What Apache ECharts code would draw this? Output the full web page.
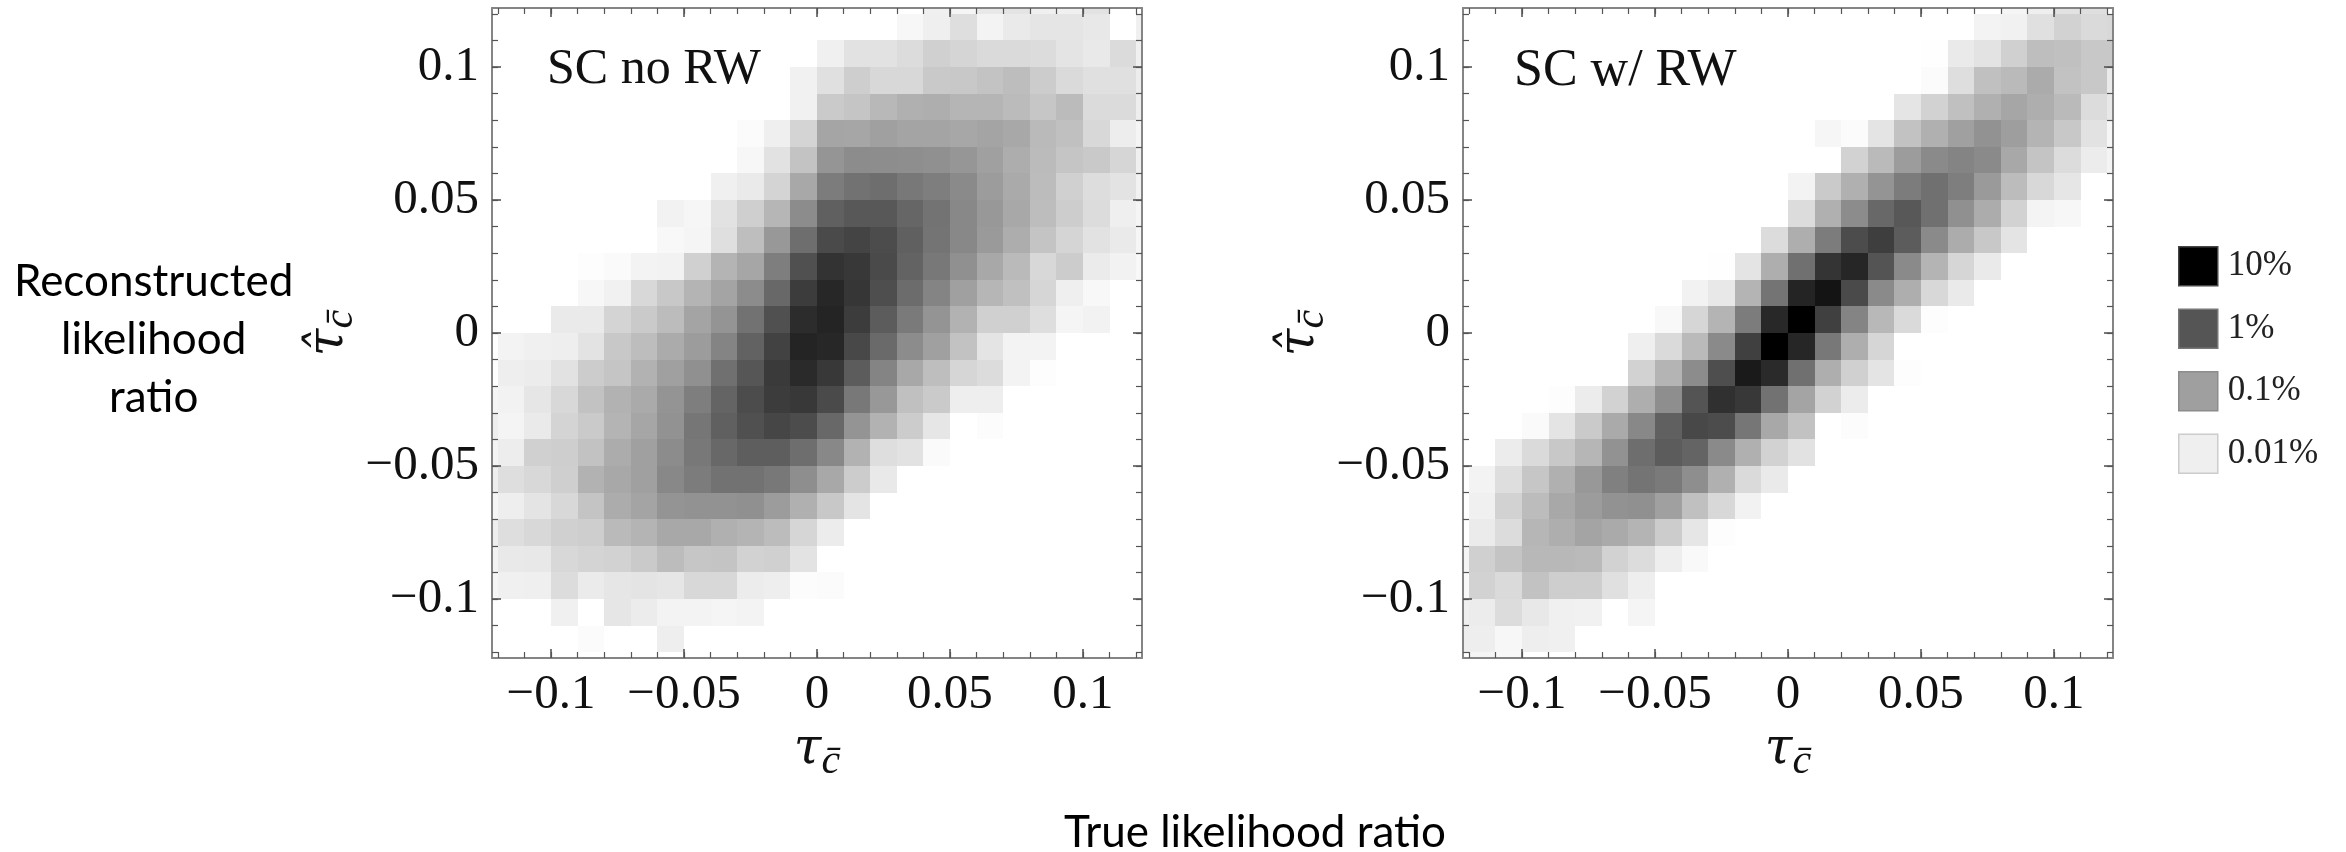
<!DOCTYPE html>
<html>
<head>
<meta charset="utf-8">
<style>html,body{margin:0;padding:0;background:#fff}#chart{width:2346px;height:852px}</style>
<script src="https://cdn.jsdelivr.net/npm/echarts@6/dist/echarts.min.js"></script>
</head>
<body>
<div id="chart"></div>
<script>
const _ = null;
// bin centres, shared by both axes (the outermost bins are cut by the frame)
const binCentres = [-0.125,-0.115,-0.105,-0.095,-0.085,-0.075,-0.065,-0.055,-0.045,-0.035,-0.025,-0.015,-0.005,0.005,0.015,0.025,0.035,0.045,0.055,0.065,0.075,0.085,0.095,0.105,0.115,0.125];
const binWidth = 0.01;
const majorTicks = [-0.1,-0.05,0,0.05,0.1];
const tickLabels = ['\u22120.1','\u22120.05','0','0.05','0.1'];
const minorTicks = [-0.12,-0.11,-0.1,-0.09,-0.08,-0.07,-0.06,-0.05,-0.04,-0.03,-0.02,-0.01,0,0.01,0.02,0.03,0.04,0.05,0.06,0.07,0.08,0.09,0.1,0.11,0.12];
const legendNames = ['10%','1%','0.1%','0.01%'];
const legendShades = ['#000000','#555555','#9f9f9f','#efefef'];
const legendBorders = ['#444444','#777777','#8c8c8c','#cccccc'];
const panelTitles = ['SC no RW','SC w/ RW'];

// grey level read from each bin, rows from the top of the plot down
const shadesNoRw = [
[_,_,_,_,_,_,_,_,_,_,_,_,_,_,_,_,_,0xf0,0xf5,0xe8,0xe4,0xf0,0xf0,0xe2],
[_,_,_,_,_,_,_,_,_,_,_,_,_,_,_,_,0xf7,0xef,0xde,0xf3,0xea,0xe5,0xe5,0xe8,_,0xf0],
[_,_,_,_,_,_,_,_,_,_,_,_,_,0xf0,0xe2,0xe2,0xdc,0xd0,0xd5,0xda,0xda,0xdc,0xe4,0xe9,0xdb,0xf0],
[_,_,_,_,_,_,_,_,_,_,_,_,0xf1,0xe0,0xce,0xd8,0xd8,0xc9,0xc8,0xc3,0xbd,0xcc,0xda,0xe0,0xe0,0xed],
[_,_,_,_,_,_,_,_,_,_,_,_,0xf1,0xca,0xc5,0xb8,0xb0,0xae,0xb5,0xb5,0xbb,0xc6,0xbb,0xdb,0xdb,0xee],
[_,_,_,_,_,_,_,_,_,_,0xfb,0xef,0xd4,0xa5,0xa6,0xa0,0xa4,0xa4,0xa7,0xa4,0xa8,0xba,0xc0,0xd8,0xed,0xf5],
[_,_,_,_,_,_,_,_,_,_,0xf7,0xe2,0xc3,0x95,0x8c,0x8d,0x8e,0x90,0x96,0xa0,0xad,0xbb,0xc5,0xc9,0xd6,0xf0],
[_,_,_,_,_,_,_,_,_,0xf0,0xea,0xd4,0xa8,0x7c,0x72,0x6e,0x78,0x7e,0x8a,0x9c,0xaa,0xbc,0xd0,0xdd,0xe3,0xf2],
[_,_,_,_,_,_,_,0xf2,0xf6,0xe2,0xcf,0xb6,0x8c,0x60,0x58,0x58,0x66,0x73,0x88,0x98,0xa8,0xbd,0xcd,0xdc,0xef,0xf5],
[_,_,_,_,_,_,_,0xf8,0xf5,0xdf,0xbe,0x98,0x6e,0x4a,0x44,0x4c,0x60,0x74,0x88,0x9a,0xad,0xc4,0xd5,0xe2,0xea,0xf6],
[_,_,_,_,0xfd,0xfa,0xf3,0xf2,0xd0,0xb4,0xa6,0x7e,0x50,0x33,0x38,0x4a,0x63,0x78,0x90,0xa8,0xba,0xd8,0xcc,0xeb,0xf2,0xf8],
[_,_,_,_,0xf7,0xf1,0xd8,0xc8,0xb4,0xa4,0x8c,0x68,0x3c,0x27,0x36,0x4e,0x6c,0x84,0xa0,0xb6,0xc0,0xd6,0xef,0xf8],
[_,_,_,0xea,0xea,0xd4,0xca,0xbc,0xa4,0x94,0x72,0x50,0x2c,0x24,0x3c,0x5c,0x7a,0x94,0xb2,0xd0,0xd0,0xde,0xf5,0xf2],
[_,0xf3,0xf0,0xee,0xe3,0xc8,0xbd,0xab,0x9c,0x84,0x62,0x42,0x24,0x27,0x48,0x6a,0x8c,0xa0,0xc2,0xe4,0xf3,0xf3],
[_,0xee,0xec,0xe2,0xcc,0xc5,0xb2,0xa0,0x90,0x70,0x56,0x3a,0x2a,0x38,0x5c,0x84,0xa8,0xbe,0xd6,0xdc,0xf3,0xfd],
[0xf5,0xf2,0xe6,0xd8,0xc2,0xb2,0xaa,0x94,0x7e,0x64,0x4c,0x3c,0x38,0x4a,0x78,0x98,0xc0,0xca,0xee,0xee],
[0xee,0xf4,0xea,0xd4,0xca,0xb4,0xa6,0x92,0x76,0x60,0x50,0x46,0x4c,0x68,0x94,0xb2,0xcc,0xe6,_,0xfc],
[0xf4,0xed,0xd0,0xce,0xc2,0xac,0xa0,0x8c,0x78,0x68,0x5e,0x5e,0x6e,0x88,0xb2,0xde,0xe2,0xfa],
[0xee,0xde,0xd8,0xcf,0xb2,0xa8,0xa0,0x88,0x7c,0x72,0x72,0x78,0x8e,0xa8,0xcc,0xe9],
[0xf5,0xee,0xe4,0xd8,0xc4,0xac,0xa4,0x94,0x92,0x92,0x90,0x9c,0xb0,0xc8,0xe4],
[0xee,0xde,0xd8,0xd0,0xce,0xba,0xb4,0xa8,0xa8,0xb0,0xb4,0xbc,0xd6,0xec],
[0xf3,0xe9,0xe8,0xd8,0xd4,0xd2,0xca,0xbc,0xc6,0xc4,0xd2,0xd0,0xe3],
[0xf5,0xf0,0xef,0xdc,0xeb,0xe6,0xe4,0xe6,0xd8,0xd8,0xec,0xee,0xfc,0xfb],
[_,_,_,0xf0,_,0xe6,0xec,0xf3,0xf3,0xf5,0xf3],
[_,_,_,_,0xfb,_,_,0xee],
[]
];
const shadesWithRw = [
[_,_,_,_,_,_,_,_,_,_,_,_,_,_,_,_,_,_,_,_,_,0xf5,0xef,0xe2,0xdf],
[_,_,_,_,_,_,_,_,_,_,_,_,_,_,_,_,_,_,_,_,0xf3,0xf1,0xe0,0xd2,0xda,0xd8],
[_,_,_,_,_,_,_,_,_,_,_,_,_,_,_,_,_,_,0xfe,0xea,0xe3,0xd0,0xbe,0xc0,0xc8,0xc8],
[_,_,_,_,_,_,_,_,_,_,_,_,_,_,_,_,_,_,0xfb,0xde,0xc0,0xba,0xab,0xc2,0xc8,0xea],
[_,_,_,_,_,_,_,_,_,_,_,_,_,_,_,_,_,0xe5,0xd2,0xc0,0xb0,0xa6,0xae,0xba,0xdc,0xe8],
[_,_,_,_,_,_,_,_,_,_,_,_,_,_,0xf6,0xfb,0xe4,0xc2,0xb0,0xa0,0x92,0x9e,0xb4,0xc8,0xe2,0xf6],
[_,_,_,_,_,_,_,_,_,_,_,_,_,_,_,0xd2,0xba,0x9c,0x8a,0x84,0x8a,0xa8,0xc4,0xdc,0xec,0xf4],
[_,_,_,_,_,_,_,_,_,_,_,_,_,0xf3,0xca,0xb0,0x94,0x7c,0x70,0x7e,0x9a,0xbc,0xd8,0xe6],
[_,_,_,_,_,_,_,_,_,_,_,_,_,0xdc,0xb0,0x8c,0x68,0x58,0x70,0x90,0xac,0xd2,0xf4,0xf7],
[_,_,_,_,_,_,_,_,_,_,_,_,0xdc,0xae,0x7c,0x4c,0x3e,0x5c,0x8a,0xac,0xc8,0xe4],
[_,_,_,_,_,_,_,_,_,_,0xfe,0xe4,0xae,0x70,0x34,0x26,0x54,0x8a,0xb4,0xd6,0xea],
[_,_,_,_,_,_,_,_,_,0xf2,0xe8,0xb4,0x74,0x24,0x14,0x4a,0x8a,0xae,0xd8,0xea],
[_,_,_,_,_,_,_,_,0xf8,0xd6,0xb4,0x7c,0x28,0x00,0x40,0x84,0xb8,0xda,0xfd],
[_,_,_,_,_,_,_,0xef,0xda,0xba,0x8a,0x40,0x00,0x26,0x78,0xae,0xd6],
[_,_,_,_,_,_,_,0xd2,0xb4,0x8c,0x4e,0x1a,0x2a,0x70,0xae,0xd0,0xe4,0xfd],
[_,_,_,_,0xfd,0xec,0xd2,0xae,0x8e,0x54,0x30,0x38,0x72,0xa4,0xd2,0xec],
[_,_,_,0xfa,0xe4,0xca,0xaa,0x88,0x60,0x48,0x4c,0x76,0xa8,0xc2,_,0xfc],
[_,_,0xec,0xda,0xc8,0xb6,0x92,0x6e,0x5c,0x64,0x8a,0xb0,0xd2,0xe2],
[_,0xf3,0xde,0xc6,0xb0,0x98,0x80,0x74,0x7a,0x8e,0xb0,0xda,0xea],
[_,0xf0,0xd2,0xbc,0xa8,0x9c,0x92,0x90,0xa0,0xc0,0xd8,0xf2],
[_,0xeb,0xdc,0xb6,0xae,0xa4,0xaa,0xb4,0xcc,0xe6,0xfd],
[0xf5,0xd0,0xc4,0xb8,0xb8,0xba,0xd2,0xdc,0xee,0xf9],
[0xf8,0xd2,0xda,0xc2,0xce,0xce,0xe0,0xee],
[0xef,0xec,0xdc,0xe8,0xf0,0xf1,_,0xf5],
[0xee,0xee,0xf7,0xee,0xf0],
[_,0xf4,0xf8]
];

const RANGE = 0.1222;
const FRAME = '#858585', TICK = '#555555';
const serif = '"Liberation Serif", serif';
const mathItalic = '"DejaVu Serif", serif';
const grids = [
  {left: 492, top: 8, width: 650, height: 650},
  {left: 1463, top: 8, width: 650, height: 650}
];
const labelFont = {fontFamily: serif, fontSize: 49, color: '#111'};

function richName(hat) {
  return hat ? '{tau|\u03C4\u0302}{sub|c\u0304}' : '{tau|\u03C4}{sub|c\u0304}';
}
const nameStyle = {
  rich: {
    tau: {fontFamily: mathItalic, fontStyle: 'italic', fontSize: 50, color: '#111', lineHeight: 66, verticalAlign: 'middle'},
    sub: {fontFamily: serif, fontStyle: 'italic', fontSize: 42, color: '#111', lineHeight: 66, verticalAlign: 'bottom'}
  }
};

const xAxes = [], yAxes = [];
grids.forEach((g, gi) => {
  const base = {gridIndex: gi, type: 'value', min: -RANGE, max: RANGE, z: 10, splitLine: {show: false}, silent: true};
  const line = {show: true, onZero: false, lineStyle: {color: FRAME, width: 2}};
  const majT = {show: true, inside: true, length: 9, customValues: majorTicks, lineStyle: {color: TICK, width: 1.6}};
  const minT = {show: true, inside: true, length: 6, customValues: minorTicks, lineStyle: {color: TICK, width: 1.2}};
  const labels = {show: true, customValues: majorTicks, ...labelFont, margin: 13,
    formatter: v => tickLabels[majorTicks.indexOf(v)]};
  xAxes.push(
    {...base, position: 'bottom', axisLine: line, axisTick: majT, axisLabel: labels,
     name: richName(false), nameLocation: 'middle', nameGap: 56, nameTextStyle: nameStyle},
    {...base, position: 'top', axisLine: line, axisTick: majT, axisLabel: {show: false}},
    {...base, position: 'bottom', axisLine: {show: false, onZero: false}, axisTick: minT, axisLabel: {show: false}},
    {...base, position: 'top', axisLine: {show: false, onZero: false}, axisTick: minT, axisLabel: {show: false}}
  );
  yAxes.push(
    {...base, position: 'left', axisLine: line, axisTick: majT, axisLabel: {...labels, margin: 13},
     name: richName(true), nameLocation: 'middle', nameGap: 128, nameRotate: 90, nameTextStyle: nameStyle},
    {...base, position: 'right', axisLine: line, axisTick: majT, axisLabel: {show: false}},
    {...base, position: 'left', axisLine: {show: false, onZero: false}, axisTick: minT, axisLabel: {show: false}},
    {...base, position: 'right', axisLine: {show: false, onZero: false}, axisTick: minT, axisLabel: {show: false}}
  );
});

function binsOf(rows) {
  const out = [];
  rows.forEach((row, r) => row.forEach((shade, c) => {
    if (shade !== null) out.push([binCentres[c], binCentres[25 - r], shade]);
  }));
  return out;
}
function renderBin(params, api) {
  const a = api.coord([api.value(0) - binWidth / 2, api.value(1) + binWidth / 2]);
  const b = api.coord([api.value(0) + binWidth / 2, api.value(1) - binWidth / 2]);
  const x = Math.round(a[0]), y = Math.round(a[1]);
  const rect = echarts.graphic.clipRectByRect(
    {x, y, width: Math.round(b[0]) - x, height: Math.round(b[1]) - y},
    {x: params.coordSys.x, y: params.coordSys.y, width: params.coordSys.width, height: params.coordSys.height});
  if (!rect) return;
  const g = api.value(2);
  return {type: 'rect', shape: rect, style: {fill: `rgb(${g},${g},${g})`}};
}

const chart = echarts.init(document.getElementById('chart'), null, {renderer: 'canvas'});
chart.setOption({
  animation: false,
  backgroundColor: '#fff',
  grid: grids,
  xAxis: xAxes,
  yAxis: yAxes,
  title: [
    {text: panelTitles[0], left: 547, top: 45, padding: 0, textStyle: {fontFamily: serif, fontWeight: 'normal', fontSize: 50, color: '#111'}},
    {text: panelTitles[1], left: 1514, top: 45, padding: 0, textStyle: {fontFamily: serif, fontWeight: 'normal', fontSize: 52, color: '#111'}}
  ],
  legend: {
    orient: 'vertical', left: 2178, top: 246, padding: 0, itemWidth: 39, itemHeight: 39, itemGap: 22, icon: 'rect',
    selectedMode: false,
    textStyle: {fontFamily: serif, fontSize: 35, color: '#222', padding: [0, 0, 0, 5]},
    data: legendNames.map((n, i) => ({name: n, itemStyle: {color: legendShades[i], borderColor: legendBorders[i], borderWidth: 1.5}}))
  },
  graphic: [
    {type: 'text', left: 14, top: 253, style: {text: 'Reconstructed\nlikelihood\nratio', align: 'center', width: 276,
      font: '44px Lato', lineHeight: 58, fill: '#000', textAlign: 'center', x: 138}},
    {type: 'text', left: 1064, top: 811, style: {text: 'True likelihood ratio', font: '44px Lato', fill: '#000'}}
  ],
  series: [
    {type: 'custom', xAxisIndex: 0, yAxisIndex: 0, renderItem: renderBin, data: binsOf(shadesNoRw), silent: true},
    {type: 'custom', xAxisIndex: 4, yAxisIndex: 4, renderItem: renderBin, data: binsOf(shadesWithRw), silent: true},
    ...legendNames.map((n, i) => ({type: 'custom', name: n, xAxisIndex: 0, yAxisIndex: 0, renderItem: () => null, data: [], itemStyle: {color: legendShades[i]}}))
  ]
});
</script>
</body>
</html>
